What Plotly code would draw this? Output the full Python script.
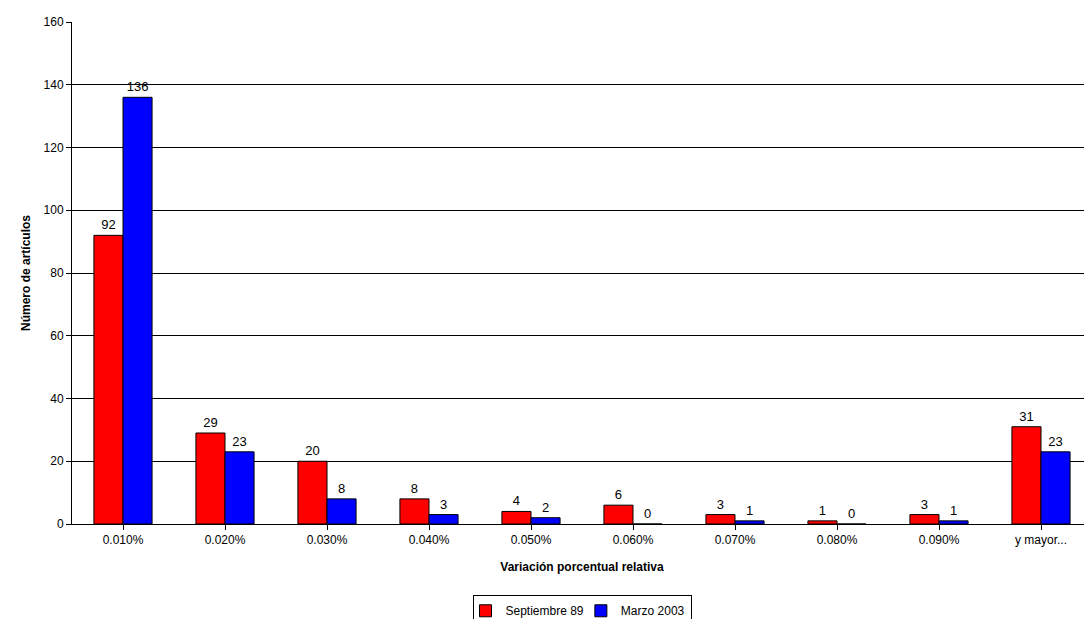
import plotly.graph_objects as go

categories = ["0.010%", "0.020%", "0.030%", "0.040%", "0.050%", "0.060%", "0.070%", "0.080%", "0.090%", "y mayor..."]
sep89 = [92, 29, 20, 8, 4, 6, 3, 1, 3, 31]
mar03 = [136, 23, 8, 3, 2, 0, 1, 0, 1, 23]

font = dict(family="Liberation Sans, Arial", size=12, color="black")
fig = go.Figure()
fig.add_bar(x=categories, y=sep89, name="Septiembre 89", marker=dict(color="#ff0000", line=dict(color="black", width=1)),
            text=sep89, textposition="outside", textfont=dict(size=13), cliponaxis=False)
fig.add_bar(x=categories, y=mar03, name="Marzo 2003", marker=dict(color="#0000ff", line=dict(color="black", width=1)),
            text=mar03, textposition="outside", textfont=dict(size=13), cliponaxis=False)
fig.update_layout(
    width=1084, height=611, plot_bgcolor="white", paper_bgcolor="white",
    margin=dict(l=64, r=0, t=14, b=95, autoexpand=False), barmode="group", bargap=0.43, bargroupgap=0,
    font=font,
    legend=dict(orientation="h", x=0.5, xanchor="center", y=-0.142, yanchor="top",
                bordercolor="black", borderwidth=1, font=dict(size=12), itemwidth=30,
                tracegroupgap=0, indentation=-8),
    xaxis=dict(title=dict(text="<b>Variación porcentual relativa</b>", font=dict(size=12), standoff=16),
               showline=True, linecolor="black", ticks="outside", tickcolor="black", ticklen=5,
               tickfont=dict(size=12), automargin=False),
    yaxis=dict(title=dict(text="<b>Número de artículos</b>", font=dict(size=12), standoff=10),
               range=[0, 160], dtick=20, showgrid=True, gridcolor="black", gridwidth=1,
               showline=True, linecolor="black", ticks="outside", tickcolor="black", ticklen=5,
               tickfont=dict(size=12), zeroline=False, automargin=False),
)
fig.write_html("out.html")
